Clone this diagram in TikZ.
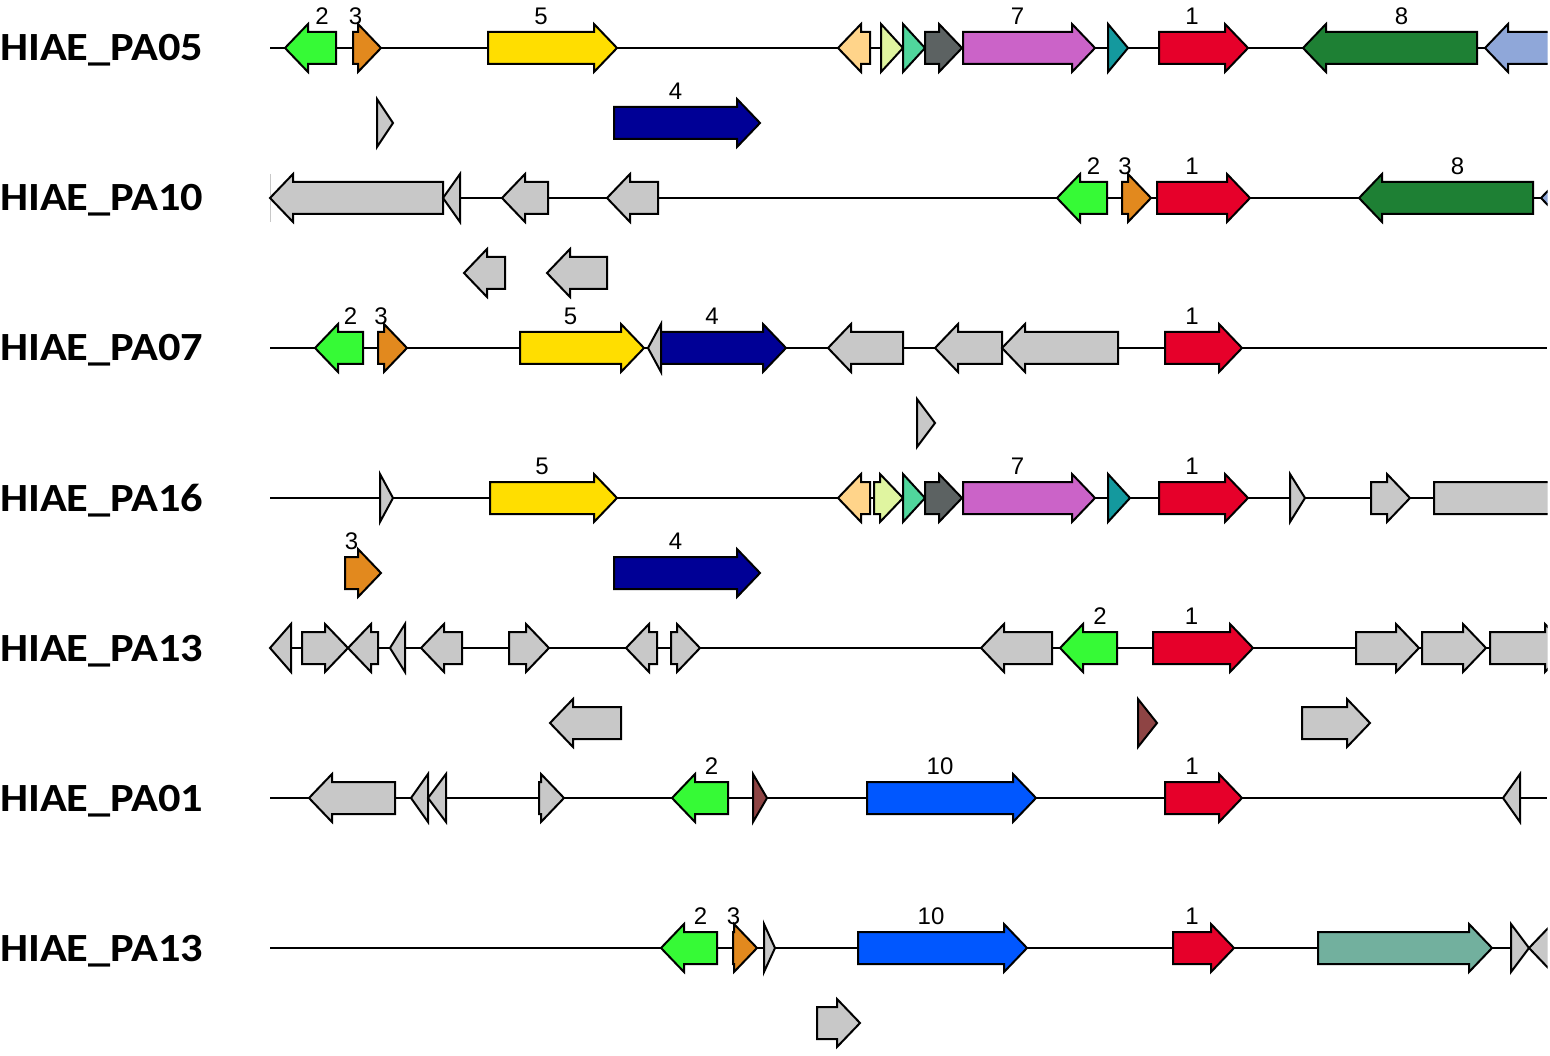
\documentclass[tikz,border=0pt]{standalone}
\usepackage{fontspec}
\setmainfont{Carlito}
\newfontfamily\numfont{Liberation Sans}
\definecolor{cgreen}{HTML}{36FA36}
\definecolor{corange}{HTML}{E2891E}
\definecolor{cyellow}{HTML}{FFDE00}
\definecolor{cnavy}{HTML}{000096}
\definecolor{clorange}{HTML}{FFD48A}
\definecolor{cpale}{HTML}{E0F5A0}
\definecolor{cseafoam}{HTML}{50D69C}
\definecolor{cdgray}{HTML}{5C6262}
\definecolor{cpurple}{HTML}{CB63C8}
\definecolor{cteal}{HTML}{14999E}
\definecolor{cred}{HTML}{E6002A}
\definecolor{cdgreen}{HTML}{1E8034}
\definecolor{clblue}{HTML}{8FA7D9}
\definecolor{cgray}{HTML}{C8C8C8}
\definecolor{cbrown}{HTML}{8E4444}
\definecolor{cblue}{HTML}{0057FF}
\definecolor{cseagreen}{HTML}{72B09E}
\newcommand{\fgene}[5]{%
  \pgfmathsetmacro{\gHead}{max(#1,#2-23)}
  \draw[gene,fill=#4] (#1,#3-16) -- (\gHead,#3-16) -- (\gHead,#3-24) -- (#2,#3) -- (\gHead,#3+24) -- (\gHead,#3+16) -- (#1,#3+16) -- cycle;
  \if\relax\detokenize{#5}\relax\else\node[num] (g#3-#5) at ({(#1+\gHead)/2},#3-32) {#5};\fi}
\newcommand{\rgene}[5]{%
  \pgfmathsetmacro{\gHead}{min(#2,#1+23)}
  \draw[gene,fill=#4] (#2,#3-16) -- (\gHead,#3-16) -- (\gHead,#3-24) -- (#1,#3) -- (\gHead,#3+24) -- (\gHead,#3+16) -- (#2,#3+16) -- cycle;
  \if\relax\detokenize{#5}\relax\else\node[num] (g#3-#5) at ({(#2+\gHead)/2},#3-32) {#5};\fi}
\begin{document}
\begin{tikzpicture}[x=1pt,y=-1pt,
  gene/.style={draw=black,line width=2pt,line join=miter},
  num/.style={font=\numfont\fontsize{24}{26}\selectfont,inner sep=0pt},
  rowlab/.style={font=\bfseries\fontsize{40}{44}\selectfont,anchor=base west,inner sep=0pt,xscale=1.11},
  backbone/.style={line width=2pt}]
\useasboundingbox (0,0) rectangle (1550,1056);
\foreach \y/\t in {48/05,198/10,348/07,498/16,648/13,798/01,948/13}
  \node[rowlab] (lab\y) at (0,\y+13) {HIAE\_PA\t};
\begin{scope}
\clip (0,0) rectangle (1547.5,1056);
\foreach \y in {48,198,...,948} \draw[backbone] (270,\y) -- (1547,\y);
\rgene{285}{336}{48}{cgreen}{2}
\fgene{353}{381}{48}{corange}{3}
\fgene{488}{617}{48}{cyellow}{5}
\rgene{838}{870}{48}{clorange}{}
\fgene{881}{903}{48}{cpale}{}
\fgene{903}{925}{48}{cseafoam}{}
\fgene{925}{962}{48}{cdgray}{}
\fgene{963}{1095}{48}{cpurple}{7}
\fgene{1108}{1128}{48}{cteal}{}
\fgene{1159}{1248}{48}{cred}{1}
\rgene{1303}{1477}{48}{cdgreen}{8}
\rgene{1485}{1570}{48}{clblue}{}
\fgene{377}{393}{123}{cgray}{}
\fgene{614}{760}{123}{cnavy}{4}
\draw[cgray,line width=1pt] (270,174) -- (270,222);
\rgene{270}{443}{198}{cgray}{}
\rgene{443}{460}{198}{cgray}{}
\rgene{502}{548}{198}{cgray}{}
\rgene{607}{658}{198}{cgray}{}
\rgene{1057}{1107}{198}{cgreen}{2}
\fgene{1122}{1151}{198}{corange}{3}
\fgene{1157}{1250}{198}{cred}{1}
\rgene{1359}{1533}{198}{cdgreen}{8}
\rgene{1541}{1580}{198}{clblue}{}
\rgene{464}{505}{273}{cgray}{}
\rgene{547}{607}{273}{cgray}{}
\rgene{315}{363}{348}{cgreen}{2}
\fgene{378}{407}{348}{corange}{3}
\fgene{520}{644}{348}{cyellow}{5}
\rgene{648}{661}{348}{cgray}{}
\fgene{661}{786}{348}{cnavy}{4}
\rgene{828}{903}{348}{cgray}{}
\rgene{935}{1002}{348}{cgray}{}
\rgene{1002}{1118}{348}{cgray}{}
\fgene{1165}{1242}{348}{cred}{1}
\fgene{917}{935}{423}{cgray}{}
\fgene{380}{393}{498}{cgray}{}
\fgene{490}{617}{498}{cyellow}{5}
\rgene{838}{870}{498}{clorange}{}
\fgene{874}{903}{498}{cpale}{}
\fgene{903}{925}{498}{cseafoam}{}
\fgene{925}{962}{498}{cdgray}{}
\fgene{963}{1095}{498}{cpurple}{7}
\fgene{1108}{1130}{498}{cteal}{}
\fgene{1159}{1248}{498}{cred}{1}
\fgene{1290}{1305}{498}{cgray}{}
\fgene{1371}{1410}{498}{cgray}{}
\fgene{1434}{1600}{498}{cgray}{}
\fgene{345}{381}{573}{corange}{3}
\fgene{614}{760}{573}{cnavy}{4}
\rgene{270}{291}{648}{cgray}{}
\fgene{302}{348}{648}{cgray}{}
\rgene{348}{378}{648}{cgray}{}
\rgene{390}{405}{648}{cgray}{}
\rgene{421}{462}{648}{cgray}{}
\fgene{509}{549}{648}{cgray}{}
\rgene{626}{657}{648}{cgray}{}
\fgene{671}{700}{648}{cgray}{}
\rgene{981}{1052}{648}{cgray}{}
\rgene{1060}{1117}{648}{cgreen}{2}
\fgene{1153}{1253}{648}{cred}{1}
\fgene{1356}{1419}{648}{cgray}{}
\fgene{1422}{1486}{648}{cgray}{}
\fgene{1490}{1568}{648}{cgray}{}
\rgene{550}{621}{723}{cgray}{}
\fgene{1138}{1157}{723}{cbrown}{}
\fgene{1302}{1370}{723}{cgray}{}
\rgene{309}{395}{798}{cgray}{}
\rgene{411}{428}{798}{cgray}{}
\rgene{428}{446}{798}{cgray}{}
\fgene{539}{564}{798}{cgray}{}
\rgene{672}{728}{798}{cgreen}{2}
\fgene{753}{767}{798}{cbrown}{}
\fgene{867}{1036}{798}{cblue}{10}
\fgene{1165}{1242}{798}{cred}{1}
\rgene{1503}{1520}{798}{cgray}{}
\rgene{661}{717}{948}{cgreen}{2}
\fgene{733}{757}{948}{corange}{3}
\fgene{764}{775}{948}{cgray}{}
\fgene{858}{1027}{948}{cblue}{10}
\fgene{1173}{1234}{948}{cred}{1}
\fgene{1318}{1492}{948}{cseagreen}{}
\fgene{1511}{1529}{948}{cgray}{}
\rgene{1529}{1560}{948}{cgray}{}
\fgene{817}{860}{1023}{cgray}{}
\end{scope}
\end{tikzpicture}
\end{document}
